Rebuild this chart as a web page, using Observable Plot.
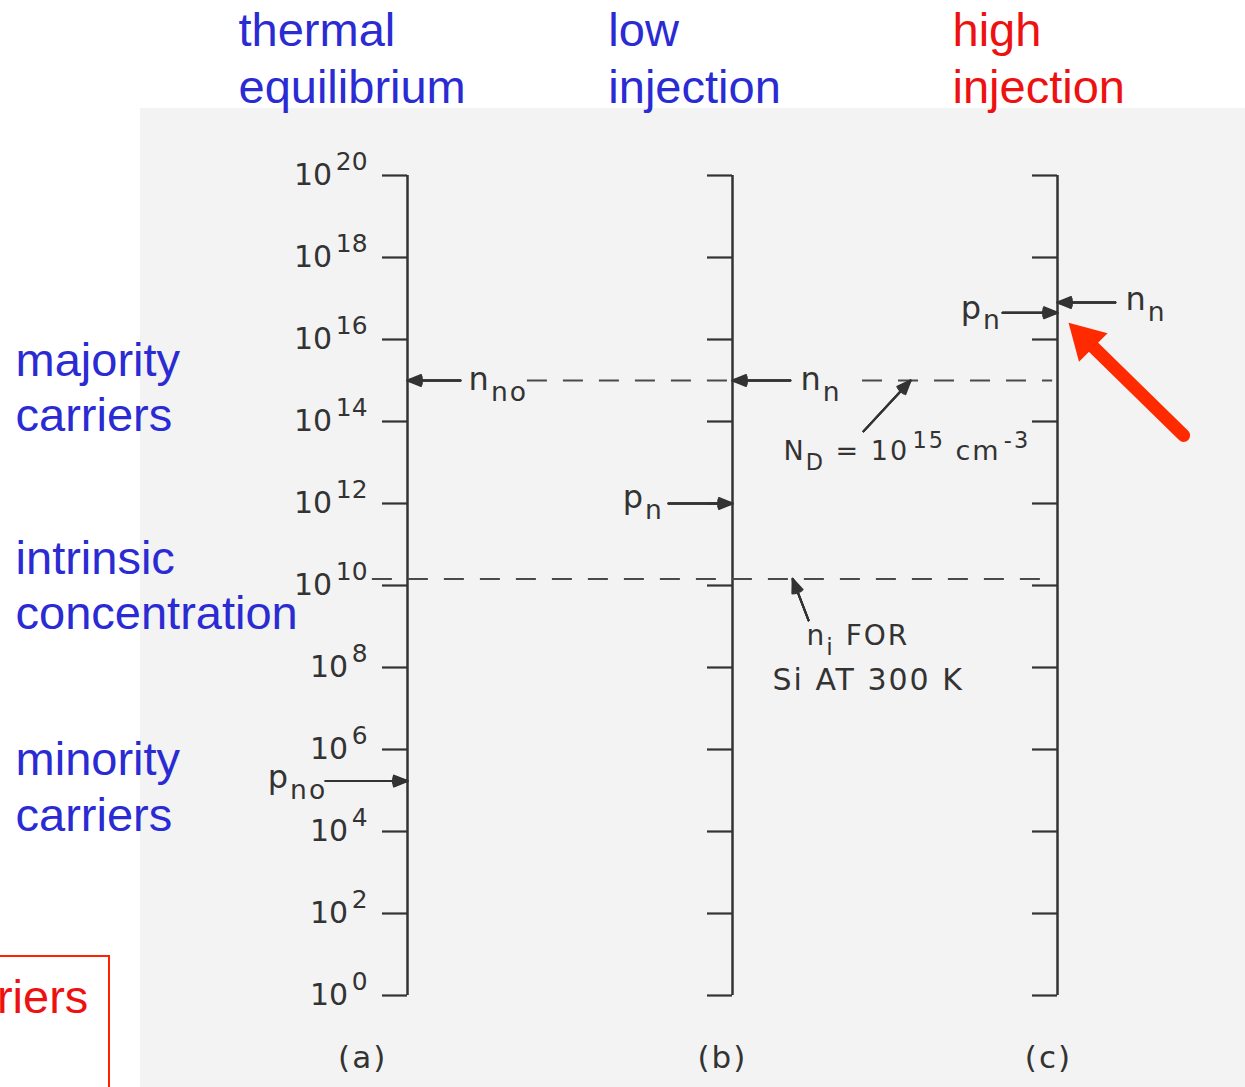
<!DOCTYPE html>
<html><head><meta charset="utf-8">
<script src="https://cdn.jsdelivr.net/npm/d3@7"></script>
<script src="https://cdn.jsdelivr.net/npm/@observablehq/plot@0.6"></script>
<style>
html,body{margin:0;padding:0;background:#fff;overflow:hidden}
#wrap{position:relative;width:1245px;height:1087px;overflow:hidden}
#scan{position:absolute;left:140px;top:108px;right:0;bottom:0;background:#f3f3f3}
#box{position:absolute;left:-3px;top:955px;width:113px;height:140px;border:2px solid #ff2200;box-sizing:border-box}
#chart{position:absolute;left:0;top:0}
g[font-family="DejaVu Sans, sans-serif"] text{letter-spacing:2px}
</style></head><body>
<div id="wrap"><div id="scan"></div><div id="box"></div><div id="chart"></div></div>
<script>
// ---- data ----
const columns = [0, 1, 2];                       // (a), (b), (c) positions
const columnLabels = ["(a)", "(b)", "(c)"];
const columnLabelX = [-0.138, 0.969, 1.972];
const decadeExponents = [0, 2, 4, 6, 8, 10, 12, 14, 16, 18, 20];
const donorDensity = 1e15;        // N_D = n_no
const intrinsicDensity = 1.45e10; // n_i for Si at 300 K

// dashed reference levels
const dashLevels = [donorDensity, donorDensity, intrinsicDensity];
const dashFrom = [0.369, 1.40, -0.108];
const dashTo = [1.0, 1.985, 1.985];

// black annotation arrows (tail -> tip)
const arrowFromX = [0.163, 1.178, 0.803, -0.252, 1.831, 2.178, 1.403, 1.234];
const arrowFromV = [1e15, 1e15, 1e12, 1.7e5, 4.5e16, 8e16, 10 ** 13.76, 10 ** 9.15];
const arrowToX = [0, 1, 1, 0, 2, 2, 1.548, 1.185];
const arrowToV = [1e15, 1e15, 1e12, 1.7e5, 4.5e16, 8e16, 1e15, 1.45e10];

// lettering in the scanned figure
const letterText = ["n_{no}", "n_{n}", "p_{n}", "p_{no}", "p_{n}", "n_{n}", "N_{D} = 10^{15} cm^{-3}", "n_{i} FOR", "Si AT 300 K"];
const letterX = [0.188, 1.209, 0.662, -0.43, 1.702, 2.209, 1.157, 1.228, 1.123];
const letterExp = [14.76, 14.76, 11.88, 5.05, 16.51, 16.71, 13.05, 8.54, 7.44];
const letterSize = [32, 32, 32, 32, 32, 32, 27, 28, 30];

// overlay labels
const overlayText = ["thermal", "equilibrium", "low", "injection", "high", "injection",
  "majority", "carriers", "intrinsic", "concentration", "minority", "carriers"];
const overlayX = [-0.52, -0.52, 0.618, 0.618, 1.677, 1.677, -1.206, -1.206, -1.206, -1.206, -1.206, -1.206];
const overlayExp = [23.15, 21.78, 23.15, 21.78, 23.15, 21.78, 15.1, 13.78, 10.29, 8.95, 5.37, 4.02];
const overlayColor = ["blue", "blue", "blue", "blue", "red", "red", "blue", "blue", "blue", "blue", "blue", "blue"];

// red highlight arrow (tail -> tip)
const redArrowFrom = {x: 2.388, v: 10 ** 13.66};
const redArrowTo = {x: 2.034, v: 10 ** 16.41};
const cutLabel = {text: "carriers", x: -0.982, v: 10 ** -0.415};

// ---- styles ----
const ink = "#333333";
const blue = "#2b2bd3";
const red = "#ee1111";
const arrowRed = "#ff2a00";
const scanFont = "DejaVu Sans";
const letterFont = "DejaVu Sans, sans-serif";
const sansFont = "Liberation Sans";

const ticks = columns.flatMap(c => decadeExponents.map(e => ({c, v: 10 ** e})));
const dashes = dashLevels.map((v, i) => ({v, x1: dashFrom[i], x2: dashTo[i]}));
const arrows = arrowFromX.map((x1, i) => ({x1, y1: arrowFromV[i], x2: arrowToX[i], y2: arrowToV[i]}));
const letters = letterText.map((t, i) => ({t, x: letterX[i], v: 10 ** letterExp[i], s: letterSize[i]}));
const overlay = overlayText.map((t, i) => ({t, x: overlayX[i], v: 10 ** overlayExp[i], c: overlayColor[i] === "red" ? red : blue}));

const blackArrow = (angle) => Plot.arrow(arrows, {x1: "x1", y1: "y1", x2: "x2", y2: "y2",
  stroke: ink, strokeWidth: 2, headLength: 11, headAngle: angle});

const chart = Plot.plot({
  width: 1245, height: 1087, margin: 0,
  x: {domain: [0, 2], range: [407, 1057], axis: null},
  y: {type: "log", domain: [1, 1e20], range: [995, 175], axis: null},
  style: {background: "transparent", overflow: "visible"},
  marks: [
    Plot.ruleX(columns, {x: d => d, y1: 1, y2: 1e20, stroke: ink, strokeWidth: 2.5}),
    Plot.ruleY(ticks, {y: "v", x1: "c", x2: "c", insetLeft: -25, stroke: ink, strokeWidth: 2.2}),
    Plot.text(decadeExponents, {x: () => 0, y: e => 10 ** e, text: e => `10^{${e}}`,
      textAnchor: "end", lineAnchor: "bottom", dx: -40, dy: 9, fontSize: 30, fill: ink, fontFamily: scanFont}),
    Plot.ruleY(dashes, {y: "v", x1: "x1", x2: "x2", stroke: "#4a4a4a", strokeWidth: 2, strokeDasharray: "20,16"}),
    blackArrow(44), blackArrow(32), blackArrow(20), blackArrow(8),
    Plot.text(letters, {x: "x", y: "v", text: "t", fontSize: "s", textAnchor: "start", lineAnchor: "bottom",
      fill: ink, fontFamily: letterFont}),
    Plot.text(columnLabels, {x: (d, i) => columnLabelX[i], y: 10 ** -1.78, text: d => d, textAnchor: "middle",
      lineAnchor: "bottom", fontSize: 31, fill: ink, fontFamily: letterFont}),
    Plot.text(overlay, {x: "x", y: "v", text: "t", fill: "c", textAnchor: "start", lineAnchor: "bottom",
      fontSize: 47, fontFamily: sansFont}),
    Plot.text([cutLabel], {x: "x", y: "v", text: "text", fill: red, textAnchor: "end", lineAnchor: "bottom",
      fontSize: 47, fontFamily: sansFont}),
    Plot.arrow([{}], {x1: () => redArrowFrom.x, y1: () => redArrowFrom.v, x2: () => redArrowTo.x, y2: () => redArrowTo.v,
      stroke: arrowRed, strokeWidth: 13, headLength: 0, insetEnd: 28}),
    Plot.dot([redArrowTo], {x: "x", y: "v", symbol: "triangle", r: 15, rotate: -45, fill: arrowRed, stroke: "none",
      dx: 16.5, dy: 16.5})
  ]
});
document.getElementById("chart").append(chart);

// turn _{..} and ^{..} into sub/superscript tspans
function richify(svg) {
  svg.querySelectorAll("text").forEach(t => {
    const s = t.textContent;
    if (!/[_^]\{/.test(s)) return;
    const fs = parseFloat(getComputedStyle(t).fontSize);
    t.textContent = "";
    const re = /([_^])\{([^}]*)\}|([^_^]+)/g;
    let m, shift = 0;
    while ((m = re.exec(s))) {
      const ts = document.createElementNS("http://www.w3.org/2000/svg", "tspan");
      let target = 0, size = null, dx = 0;
      if (m[1] === "^") { target = -0.47 * fs; size = 0.83 * fs; dx = 0.12 * fs; ts.textContent = m[2]; }
      else if (m[1] === "_") { target = 0.34 * fs; size = 0.83 * fs; ts.textContent = m[2]; }
      else ts.textContent = m[3];
      const dy = target - shift; shift = target;
      if (dy) ts.setAttribute("dy", dy);
      if (dx) ts.setAttribute("dx", dx);
      if (size) ts.setAttribute("font-size", size);
      t.appendChild(ts);
    }
  });
}
richify(chart);
</script></body></html>
